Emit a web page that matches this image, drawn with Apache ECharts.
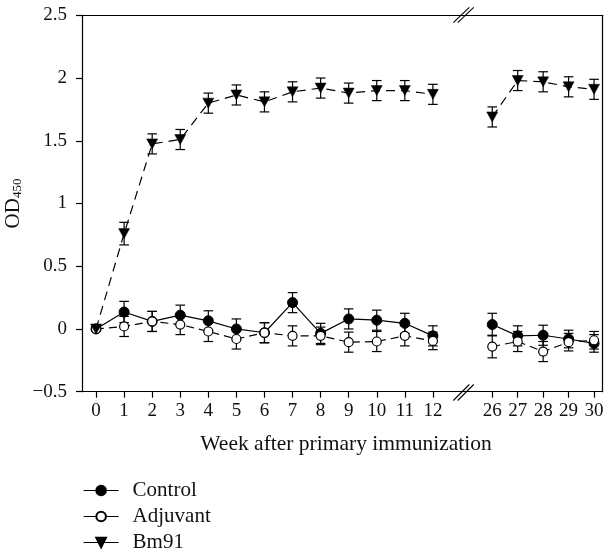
<!DOCTYPE html>
<html>
<head>
<meta charset="utf-8">
<script src="https://cdn.jsdelivr.net/npm/echarts@6/dist/echarts.min.js"></script>
<style>html,body{margin:0;padding:0;background:#fff}#c{width:606px;height:558px}</style>
</head>
<body>
<div id="c"></div>
<script>
const weeks = [0,1,2,3,4,5,6,7,8,9,10,11,12,26,27,28,29,30];
const control     = [0,0.135,0.06,0.11,0.065,0.0,-0.03,0.21,-0.035,0.08,0.07,0.045,-0.055, 0.035,-0.055,-0.05,-0.08,-0.115];
const controlErr  = [0,0.085,0.08,0.08,0.08,0.08,0.08,0.08,0.08,0.08,0.08,0.08,0.08, 0.09,0.08,0.08,0.07,0.07];
const adjuvant    = [0,0.02,0.06,0.035,-0.02,-0.08,-0.03,-0.055,-0.055,-0.105,-0.1,-0.055,-0.095, -0.14,-0.1,-0.18,-0.105,-0.09];
const adjuvantErr = [0,0.08,0.08,0.08,0.08,0.08,0.08,0.08,0.07,0.08,0.08,0.08,0.07, 0.09,0.08,0.08,0.07,0.07];
const bm91        = [0,0.76,1.475,1.51,1.80,1.865,1.81,1.89,1.92,1.88,1.9,1.9,1.87, 1.69,1.98,1.97,1.93,1.91];
const bm91Err     = [0,0.09,0.08,0.08,0.08,0.08,0.08,0.08,0.08,0.08,0.08,0.08,0.08, 0.08,0.08,0.08,0.08,0.08];
const ticksLeft  = [0,1,2,3,4,5,6,7,8,9,10,11,12];
const ticksRight = [26,27,28,29,30];

const FONT = 'Liberation Serif';
const breakWeek = 13;

function pairs(vals, part) {
  return weeks.map((w,i)=>[w, vals[i]]).filter(p => part === 0 ? p[0] < breakWeek : p[0] > breakWeek);
}
function triples(vals, errs, part) {
  return weeks.map((w,i)=>[w, vals[i], errs[i]]).filter(p => part === 0 ? p[0] < breakWeek : p[0] > breakWeek);
}

function errRender(params, api) {
  const x = api.value(0), y = api.value(1), e = api.value(2);
  if (!e) return null;
  const t = api.coord([x, y + e]), b = api.coord([x, y - e]);
  const w = 4.8;
  const st = {stroke:'#000', lineWidth:1.2};
  return {type:'group', children:[
    {type:'line', shape:{x1:t[0], y1:t[1], x2:b[0], y2:b[1]}, style:st},
    {type:'line', shape:{x1:t[0]-w, y1:t[1], x2:t[0]+w, y2:t[1]}, style:st},
    {type:'line', shape:{x1:b[0]-w, y1:b[1], x2:b[0]+w, y2:b[1]}, style:st}
  ]};
}

const specs = [
  {name:'Control', vals:control, errs:controlErr, line:{color:'#000', width:1.2, type:'solid'},
   symbol:'circle', size:10, rot:0, item:{color:'#000', borderColor:'#000', borderWidth:1}},
  {name:'Adjuvant', vals:adjuvant, errs:adjuvantErr, line:{color:'#000', width:1.2, type:[8,5]},
   symbol:'circle', size:9, rot:0, item:{color:'#fff', borderColor:'#000', borderWidth:1.2}},
  {name:'Bm91', vals:bm91, errs:bm91Err, line:{color:'#000', width:1.2, type:[9,6]},
   symbol:'triangle', size:[11,10], rot:180, item:{color:'#000', borderColor:'#000', borderWidth:0.5}}
];

const series = [];
[0,1].forEach(part => {
  specs.forEach((s, k) => {
    series.push({
      type:'custom', name: s.name + '_err' + part, xAxisIndex: part*2, yAxisIndex: part,
      renderItem: errRender, data: triples(s.vals, s.errs, part), z: 1 + k*0.01,
      encode:{x:0, y:1}, silent:true
    });
  });
  specs.forEach((s, k) => {
    series.push({
      type:'line', name: s.name, xAxisIndex: part*2, yAxisIndex: part,
      data: pairs(s.vals, part), symbol: s.symbol, symbolSize: s.size, symbolRotate: s.rot,
      showSymbol:true, lineStyle: s.line, itemStyle: s.item, z: 3 + k, color:'#000'
    });
  });
});

const labelStyle = {fontFamily: FONT, fontSize: 19, color:'#111'};
const gridTop = 15.3, gridBottom = 558 - 391.7;
const xBreak = 463.5;

const option = {
  animation:false,
  backgroundColor:'#fff',
  grid:[
    {left:82, right:606 - xBreak, top:gridTop, bottom:gridBottom, containLabel:false, outerBoundsMode:'none'},
    {left:xBreak, right:3.3, top:gridTop, bottom:gridBottom, containLabel:false, outerBoundsMode:'none'}
  ],
  xAxis:[
    {type:'value', gridIndex:0, min:-0.5, max:13.09, position:'bottom',
     axisLine:{show:true, onZero:false, lineStyle:{color:'#000', width:1.2}},
     axisTick:{show:true, length:6, customValues:ticksLeft, lineStyle:{color:'#000', width:1.2}},
     axisLabel:{show:true, customValues:ticksLeft, margin:10, ...labelStyle},
     splitLine:{show:false}},
    {type:'value', gridIndex:0, min:-0.5, max:13.09, position:'top',
     axisLine:{show:true, onZero:false, lineStyle:{color:'#000', width:1.2}},
     axisTick:{show:false}, axisLabel:{show:false}, splitLine:{show:false}},
    {type:'value', gridIndex:1, min:24.87, max:30.34, position:'bottom',
     axisLine:{show:true, onZero:false, lineStyle:{color:'#000', width:1.2}},
     axisTick:{show:true, length:6, customValues:ticksRight, lineStyle:{color:'#000', width:1.2}},
     axisLabel:{show:true, customValues:ticksRight, margin:10, ...labelStyle},
     splitLine:{show:false}},
    {type:'value', gridIndex:1, min:24.87, max:30.34, position:'top',
     axisLine:{show:true, onZero:false, lineStyle:{color:'#000', width:1.2}},
     axisTick:{show:false}, axisLabel:{show:false}, splitLine:{show:false}}
  ],
  yAxis:[
    {type:'value', gridIndex:0, min:-0.5, max:2.5, interval:0.5, position:'left',
     axisLine:{show:true, onZero:false, lineStyle:{color:'#000', width:1.2}},
     axisTick:{show:true, length:6, lineStyle:{color:'#000', width:1.2}},
     axisLabel:{show:true, margin:15, ...labelStyle,
       formatter: v => v < 0 ? '\u2212' + Math.abs(v) : String(v)},
     splitLine:{show:false},
     name:'{a|OD}{b|450}', nameLocation:'middle', nameGap:58, nameRotate:90, nameMoveOverlap:false,
     nameTextStyle:{rich:{
       a:{fontFamily:FONT, fontSize:21, color:'#111', lineHeight:22},
       b:{fontFamily:FONT, fontSize:13, color:'#111', lineHeight:10, verticalAlign:'bottom'}
     }}},
    {type:'value', gridIndex:1, min:-0.5, max:2.5, interval:0.5, position:'right',
     axisLine:{show:true, onZero:false, lineStyle:{color:'#000', width:1.2}},
     axisTick:{show:false}, axisLabel:{show:false}, splitLine:{show:false}}
  ],
  legend:{
    orient:'vertical', left:78, top:475, height:90,
    data:['Control','Adjuvant','Bm91'],
    itemWidth:35, itemHeight:12, itemGap:5,
    lineStyle:{type:'solid', width:1.2, color:'#000'},
    textStyle:{fontFamily:FONT, fontSize:21, lineHeight:21, color:'#111', padding:[0,0,0,9]}
  },
  graphic:[
    {type:'text', x:346, y:444, style:{text:'Week after primary immunization', align:'center', verticalAlign:'middle', fontFamily:FONT, fontSize:21.5, fill:'#111'}},
    {type:'line', shape:{x1:453.3, y1:22.7, x2:469.3, y2:7.3}, style:{stroke:'#000', lineWidth:1.1}},
    {type:'line', shape:{x1:457.7, y1:22.7, x2:473.7, y2:7.3}, style:{stroke:'#000', lineWidth:1.1}},
    {type:'line', shape:{x1:453.3, y1:400.5, x2:469.3, y2:384.5}, style:{stroke:'#000', lineWidth:1.1}},
    {type:'line', shape:{x1:457.7, y1:400.5, x2:473.7, y2:384.5}, style:{stroke:'#000', lineWidth:1.1}}
  ],
  series: series
};

const chart = echarts.init(document.getElementById('c'), null, {renderer:'canvas'});
chart.setOption(option);
</script>
</body>
</html>
